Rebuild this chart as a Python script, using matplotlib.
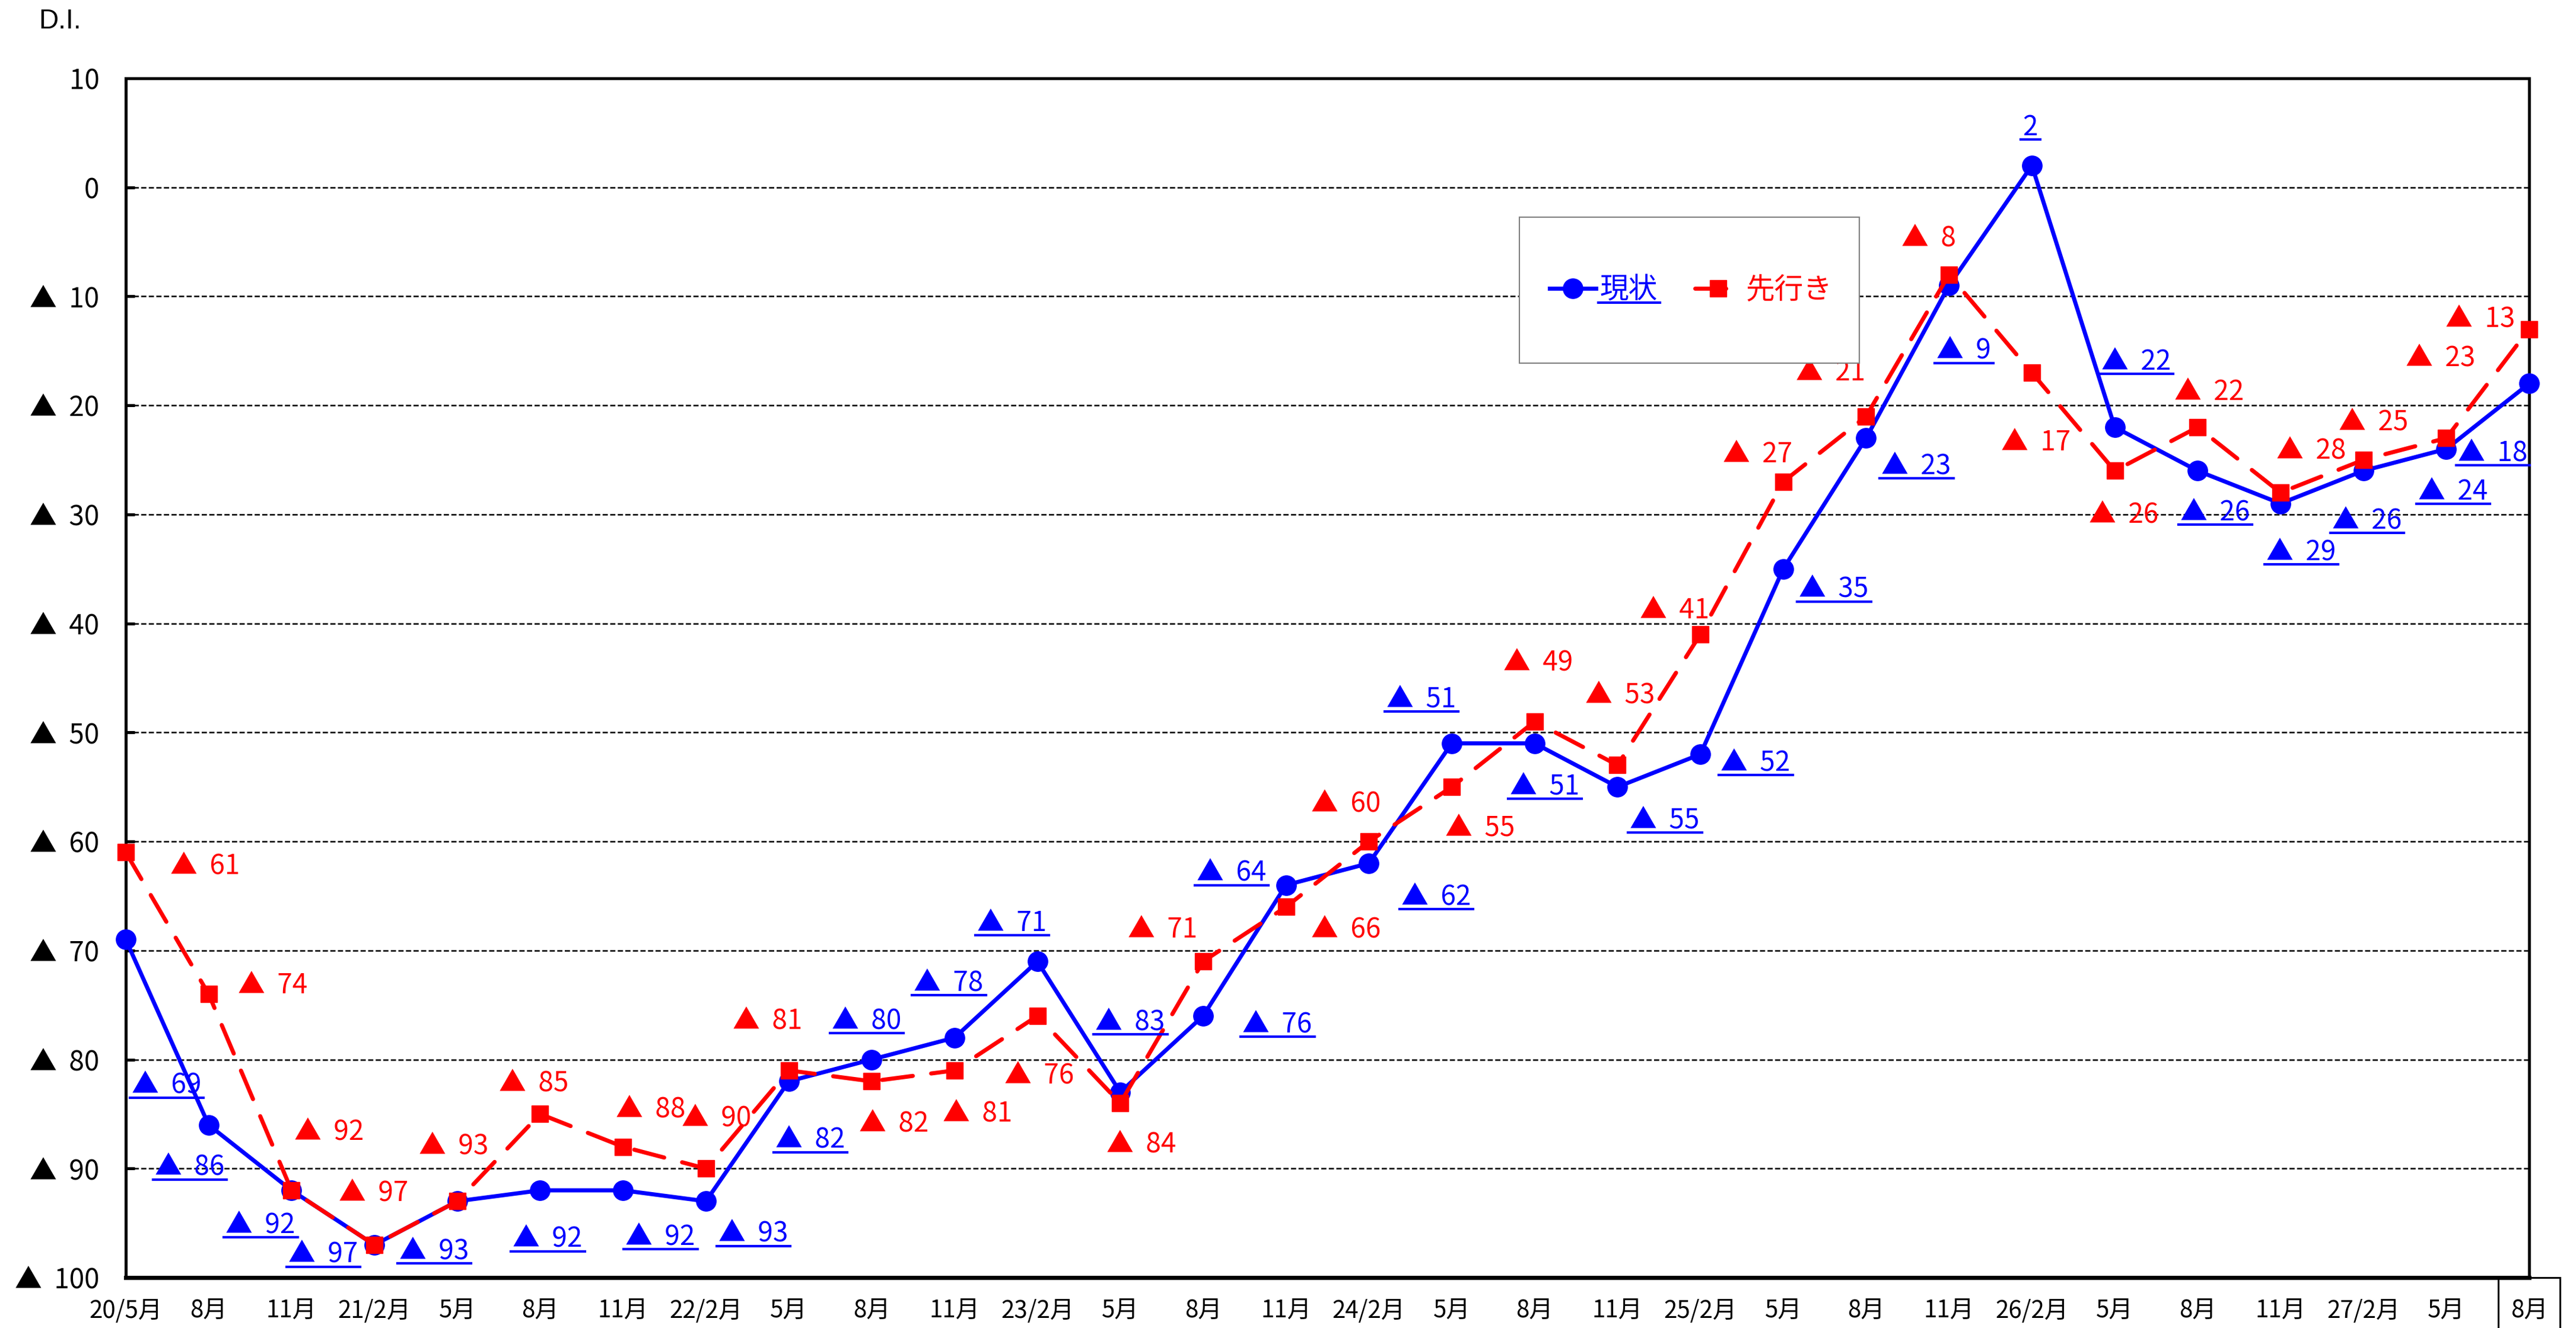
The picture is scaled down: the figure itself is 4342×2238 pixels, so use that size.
import matplotlib
matplotlib.use("Agg")
import matplotlib.pyplot as plt
from matplotlib.lines import Line2D
from matplotlib.patches import Rectangle
from matplotlib.transforms import blended_transform_factory

plt.rcParams['font.family'] = ['Liberation Sans', 'Noto Sans CJK JP', 'DejaVu Sans']
LABEL_FONT = ['Noto Sans CJK JP', 'DejaVu Sans']

# 調査時点
periods = ['20/5月', '8月', '11月', '21/2月', '5月', '8月', '11月', '22/2月', '5月', '8月',
           '11月', '23/2月', '5月', '8月', '11月', '24/2月', '5月', '8月', '11月', '25/2月',
           '5月', '8月', '11月', '26/2月', '5月', '8月', '11月', '27/2月', '5月', '8月']

# D.I.（現状 / 先行き）
current = [-69, -86, -92, -97, -93, -92, -92, -93, -82, -80,
           -78, -71, -83, -76, -64, -62, -51, -51, -55, -52,
           -35, -23, -9, 2, -22, -26, -29, -26, -24, -18]
outlook = [-61, -74, -92, -97, -93, -85, -88, -90, -81, -82,
           -81, -76, -84, -71, -66, -60, -55, -49, -53, -41,
           -27, -21, -8, -17, -26, -22, -28, -25, -23, -13]

y_ticks = list(range(-100, 11, 10))

# データラベルの位置ずれ（x: 期, y: D.I.）
current_off = [(0.49, -13.4), (-0.23, -3.9), (-0.375, -3.2), (-0.62, -0.9), (-0.28, -4.6),
               (0.09, -4.5), (0.45, -4.3), (0.57, -3.0), (0.26, -5.4), (-0.06, 3.5),
               (-0.07, 5.0), (-0.31, 3.5), (0.12, 6.4), (0.895, -0.8), (-0.66, 1.1),
               (0.81, -3.1), (-0.37, 4.0), (0.12, -4.0), (0.57, -3.1), (0.665, -0.8),
               (0.61, -1.9), (0.605, -2.6), (0.18, -6.0), (-0.02, 3.5), (0.26, 6.0),
               (0.21, -3.85), (0.25, -4.5), (0.04, -4.6), (0.08, -3.9), (-0.44, -6.4)]
outlook_off = [(0.96, -1.3), (0.775, 0.8), (0.455, 5.3), (-0.01, 4.7), (-0.04, 5.0),
               (-0.08, 2.8), (0.33, 3.4), (0.13, 4.6), (-0.255, 4.5), (0.27, -3.9),
               (0.28, -4.0), (0.02, -5.5), (0.255, -3.8), (-0.49, 2.9), (0.72, -2.1),
               (-0.28, 3.4), (0.34, -3.8), (0.045, 5.4), (0.03, 6.4), (-0.31, 2.2),
               (-0.31, 2.5), (-0.43, 4.0), (-0.245, 3.3), (0.05, -6.4), (0.11, -4.1),
               (0.14, 3.2), (0.37, 3.8), (0.12, 3.4), (-0.07, 7.3), (-0.59, 0.9)]

BLUE = '#0000FF'
RED = '#FF0000'
W, H = 4342, 2238


def di_label(v):
    return f'▲  {abs(v)}' if v < 0 else f'{v}'


fig = plt.figure(figsize=(W / 100, H / 100), dpi=100)
ax = fig.add_axes([212 / W, 1 - 2153 / H, (4263 - 212) / W, (2153 - 132) / H])

x = list(range(len(periods)))
line_cur, = ax.plot(x, current, color=BLUE, lw=5, marker='o', ms=24,
                    zorder=3, clip_on=False, label='現状')
line_out, = ax.plot(x, outlook, color=RED, lw=5, ls=(0, (7.5, 4.5)),
                    dash_capstyle='round', marker='s', ms=20,
                    zorder=4, clip_on=False, label='先行き')

ax.set_xlim(0, len(periods) - 1)
ax.set_ylim(-100, 10)
ax.set_yticks(y_ticks)
ax.set_yticklabels([di_label(v) for v in y_ticks], fontfamily=LABEL_FONT)
ax.set_xticks(x)
ax.set_xticklabels(periods, fontfamily=LABEL_FONT, fontsize=29)

ax.tick_params(axis='y', direction='in', length=11, width=3.6, pad=32, labelsize=33)
ax.tick_params(axis='x', length=0, pad=26)
ax.set_axisbelow(True)
ax.grid(axis='y', color='black', lw=1.8, ls=(0, (3.5, 1.6)))
for side in ['left', 'top', 'right']:
    ax.spines[side].set_linewidth(3.6)
ax.spines['bottom'].set_linewidth(5)

# 最新期の枠
tr = blended_transform_factory(ax.transData, ax.transAxes)
ax.add_patch(Rectangle((x[-1] - 0.375, -0.06), 0.75, 0.06, transform=tr,
                       fill=False, ec='black', lw=2.2, clip_on=False))

# データラベル
blue_texts = []
for i, (v, (dx, dy)) in enumerate(zip(current, current_off)):
    t = ax.text(i + dx, v + dy, di_label(v), color=BLUE, fontsize=33,
                fontfamily=LABEL_FONT, ha='center', va='center', zorder=6)
    blue_texts.append(t)
for i, (v, (dx, dy)) in enumerate(zip(outlook, outlook_off)):
    ax.text(i + dx, v + dy, di_label(v), color=RED, fontsize=33,
            fontfamily=LABEL_FONT, ha='center', va='center', zorder=6)

fig.text(65 / W, 1 - 36 / H, 'D.I.', fontsize=33, ha='left', va='center')

# 凡例
fig.add_artist(Rectangle((2561 / W, 1 - 612 / H), 573 / W, 246 / H,
                         transform=fig.transFigure, fc='white', ec='#808080',
                         lw=1.5, zorder=1))
leg = fig.legend(handles=[line_cur, line_out], loc='center',
                 bbox_to_anchor=(2850 / W, 1 - 489 / H), ncol=2, frameon=False,
                 prop={'family': ['Noto Sans CJK JP'], 'size': 35},
                 handlelength=1.6, handletextpad=0.15, columnspacing=1.3)
leg.set_zorder(5)
leg.get_texts()[0].set_color(BLUE)
leg.get_texts()[1].set_color(RED)

# 下線（現状）
fig.canvas.draw()
renderer = fig.canvas.get_renderer()
inv = fig.transFigure.inverted()
for t in blue_texts + [leg.get_texts()[0]]:
    bb = t.get_window_extent(renderer)
    (x0, y0), (x1, _) = inv.transform([(bb.x0 - 3, bb.y0 + 4), (bb.x1 + 4, bb.y0 + 4)])
    fig.add_artist(Line2D([x0, x1], [y0, y0], color=BLUE, lw=3, zorder=6,
                          transform=fig.transFigure))

fig.savefig('out.png', dpi=100)
